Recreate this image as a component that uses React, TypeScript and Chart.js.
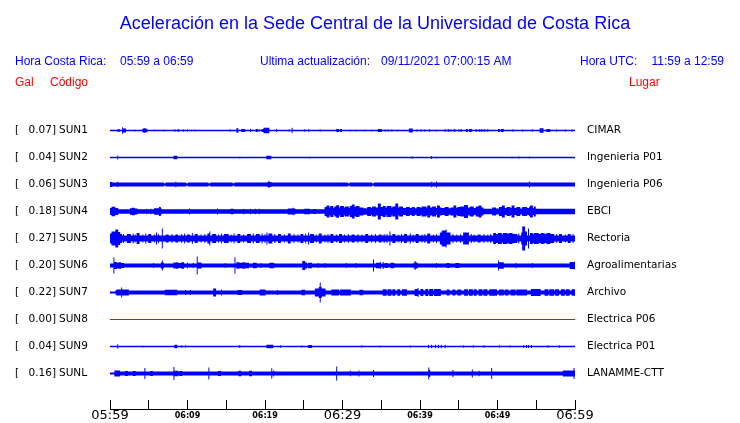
import React, { useEffect, useRef } from "react";
import { Chart, registerables } from "chart.js";

Chart.register(...registerables);

// ---------- text ----------
const TITLE = "Aceleración en la Sede Central de la Universidad de Costa Rica";
const LOCAL_LABEL = "Hora Costa Rica:";
const LOCAL_RANGE = "05:59 a 06:59";
const UPDATE_LABEL = "Ultima actualización:";
const UPDATE_VALUE = "09/11/2021 07:00:15 AM";
const UTC_LABEL = "Hora UTC:";
const UTC_RANGE = "11:59 a 12:59";
const COL_GAL = "Gal";
const COL_CODE = "Código";
const COL_PLACE = "Lugar";

// ---------- stations ----------
const stationCodes = ["SUN1", "SUN2", "SUN3", "SUN4", "SUN5", "SUN6", "SUN7", "SUN8", "SUN9", "SUNL"];
const peakGal = ["0.07", "0.04", "0.06", "0.18", "0.27", "0.20", "0.22", "0.00", "0.04", "0.16"];
const places = ["CIMAR", "Ingenieria P01", "Ingenieria P06", "EBCI", "Rectoria", "Agroalimentarias", "Archivo", "Electrica P06", "Electrica P01", "LANAMME-CTT"];

// ---------- time axis (minutes after 05:59) ----------
const tickMinutes = [0, 5, 10, 15, 20, 25, 30, 35, 40, 45, 50, 55, 60];
const tickLabels = ["05:59", "", "06:09", "", "06:19", "", "06:29", "", "06:39", "", "06:49", "", "06:59"];
const majorTickLabels = ["05:59", "06:29", "06:59"];

// ---------- waveform envelopes ----------
// background half-amplitude of each trace (counts)
const baseAmp = [0.7, 0.65, 2.0, 2.2, 3.0, 2.0, 2.0, 0.55, 0.65, 2.0];
// bursts: [start minute, end minute, half-amplitude]
const sun1Bursts = [[1.0,1.3,1.3],[1.6,1.6,3.3],[1.75,2.0,2.0],[3.2,3.2,1.0],[4.3,4.4,2.0],[4.45,4.45,2.5],[4.55,4.7,1.8],[5.7,5.7,1.0],[7.0,7.0,1.0],[8.4,8.4,1.3],[8.7,8.7,1.3],[8.9,8.9,1.3],[9.5,9.5,1.3],[10.0,10.0,1.3],[10.5,10.5,0.9],[11.0,11.0,0.9],[15.5,15.5,1.3],[16.35,16.55,2.3],[17.0,17.1,1.5],[17.3,17.4,1.5],[18.15,18.15,1.5],[18.9,19.0,1.5],[19.3,19.3,1.2],[19.6,19.8,1.5],[19.9,20.5,2.7],[21.5,21.5,1.5],[23.1,23.1,1.3],[23.45,23.45,2.8],[25.1,25.1,1.3],[25.6,25.6,1.3],[27.1,27.1,1.3],[29.3,29.45,1.5],[29.7,29.9,1.5],[31.05,31.05,1.0],[31.8,31.8,1.0],[32.9,32.9,1.0],[33.75,33.75,1.0],[34.6,34.75,1.5],[34.9,35.05,1.5],[35.5,35.5,1.2],[35.9,35.9,1.2],[36.35,36.35,1.2],[37.1,37.1,1.0],[38.6,39.05,2.0],[39.65,39.65,1.3],[40.1,40.1,1.3],[40.65,40.65,1.3],[41.3,41.3,1.3],[42.15,42.15,1.0],[43.2,43.2,1.6],[43.65,43.75,1.3],[44.0,44.0,1.2],[44.35,44.5,1.3],[44.95,45.05,1.2],[45.3,45.4,1.2],[46.0,46.15,1.5],[46.4,46.65,1.5],[47.3,47.3,1.5],[47.6,47.7,1.3],[48.0,48.0,1.5],[48.3,48.4,1.2],[48.7,48.8,1.5],[50.1,50.2,1.5],[50.5,50.75,1.5],[52.0,52.0,1.2],[53.25,53.25,1.2],[54.55,54.55,1.2],[55.5,55.9,2.3],[56.35,56.45,1.5],[56.6,56.7,1.5],[57.6,57.6,1.3],[58.8,58.8,1.3],[59.6,59.6,1.3]];
const sun2Bursts = [[1.0,1.0,2.0],[8.3,8.6,1.7],[16.7,16.7,1.0],[20.3,20.7,1.7],[25.7,25.7,1.0],[39.0,39.0,1.2],[41.45,41.45,1.5],[42.1,42.1,1.0],[51.9,51.9,1.0],[52.7,52.7,1.3],[54.1,54.1,1.0]];
const sun3Bursts = [[0,0.2,2.4],[1.0,1.0,2.8],[7.0,7.1,1.2],[8.5,8.5,2.8],[9.9,10.0,1.2],[12.8,12.9,1.2],[15.9,16.0,1.2],[20.4,20.7,2.6],[20.55,20.55,3.7],[30.75,30.85,1.2],[33.85,33.95,1.2],[41.45,41.45,2.8],[42.1,42.1,3.0],[54.1,54.1,3.0]];
const sun4Bursts = [[0,0.3,3.5],[0.3,0.6,4.7],[0.6,1.05,3.5],[2.6,2.9,3.3],[2.9,3.15,3.8],[3.15,3.45,3.0],[4.8,4.8,2.8],[5.25,5.25,2.8],[5.8,6.2,3.3],[6.35,6.5,4.5],[6.5,6.6,3.0],[10.3,10.3,3.0],[13.85,13.85,3.0],[15.6,15.9,2.8],[17.2,17.2,2.8],[18.15,18.15,2.8],[18.7,18.7,2.8],[19.2,19.2,2.8],[23.0,23.5,3.0],[23.65,23.65,3.8],[23.8,23.9,3.0],[25.1,25.7,2.8],[26.2,26.45,2.6],
  [27.75,28.0,4.5],[28.0,28.25,6.0],[28.25,28.5,4.0],[28.5,28.75,5.5],[28.75,29.0,3.5],[29.0,29.3,5.0],[29.3,29.55,6.3],[29.55,29.8,4.0],[29.8,30.1,5.5],[30.1,30.35,4.0],[30.35,30.7,5.0],[30.7,31.0,3.8],[31.0,31.3,5.5],[31.3,31.5,7.0],[31.5,31.8,4.5],[31.8,32.1,5.5],[32.1,32.6,4.0],[32.6,33.3,3.3],[33.3,33.6,4.5],[33.6,33.9,3.5],[33.9,34.3,5.0],[34.3,34.6,4.0],[34.6,34.85,8.0],[34.85,35.2,4.5],[35.2,35.5,5.5],[35.5,35.8,3.8],[35.8,36.2,5.5],[36.2,36.5,4.0],[36.5,36.85,5.0],[36.85,37.1,8.0],[37.1,37.4,4.0],[37.4,37.8,5.0],[37.8,38.2,3.5],[38.2,38.6,4.5],[38.6,39.0,3.5],[39.0,39.3,4.5],[39.3,39.6,3.3],[39.6,40.0,4.5],[40.0,40.3,3.5],[40.3,40.7,5.0],[40.7,41.0,4.0],[41.0,41.2,6.0],[41.2,41.6,4.0],[41.6,42.0,5.0],[42.0,42.25,3.5],[42.25,42.45,6.0],[42.45,42.8,4.0],[42.8,43.2,3.5],[43.2,43.6,4.5],[43.6,44.0,3.3],[44.0,44.4,4.0],[44.4,44.6,6.0],[44.6,44.9,3.5],[44.9,45.3,4.5],[45.3,45.8,5.0],[45.8,46.1,6.5],[46.1,46.5,4.0],[46.5,46.9,5.0],[46.9,47.3,3.5],[47.3,47.6,5.0],[47.6,47.85,6.0],[47.85,48.1,4.0],[48.1,49.4,2.8],[49.4,49.8,4.0],[49.8,50.2,3.0],[50.2,50.6,4.5],[50.6,50.85,6.0],[50.85,51.2,3.5],[51.2,51.6,4.5],[51.6,51.9,3.5],[51.9,52.1,6.0],[52.1,52.5,3.5],[52.5,52.9,4.5],[52.9,53.3,3.0],[53.3,53.7,4.5],[53.7,54.1,3.5],[54.1,54.3,4.5],[54.3,54.5,6.0],[54.5,54.7,3.5],[54.7,54.9,5.0],[54.9,60,2.7]];
const sun5Bursts = [[0,0.3,5.0],[0.3,0.8,7.0],[0.8,1.0,9.0],[1.0,1.2,6.5],[1.2,1.5,4.5],[1.8,1.8,4.5],[2.3,2.6,4.5],[3.0,3.0,5.0],[3.3,3.3,4.0],[3.5,3.8,5.5],[4.2,4.2,4.0],[4.6,4.6,5.0],[5.0,5.3,4.5],[5.7,5.7,4.0],[6.0,6.0,6.0],[6.3,6.3,4.5],[6.8,6.8,10.0],[7.2,7.5,4.0],[8.0,8.0,4.5],[8.5,8.8,4.0],[9.2,9.2,4.5],[9.6,9.6,5.0],[10.0,10.3,4.0],[10.6,10.6,5.5],[11.0,11.3,4.5],[11.8,11.8,4.0],[12.2,12.2,4.5],[12.6,12.85,5.0],[12.9,12.9,7.0],[13.3,13.6,4.5],[14.0,14.0,4.0],[14.4,14.4,5.0],[14.8,15.2,4.5],[15.6,15.6,4.0],[16.0,16.0,5.0],[16.5,16.8,4.5],[17.3,17.3,4.0],[17.8,18.1,4.5],[18.5,18.5,5.0],[18.9,19.3,4.5],[19.6,19.6,5.0],[20.0,20.0,4.5],[20.2,20.2,6.0],[20.5,20.9,5.0],[21.2,21.2,4.5],[21.7,22.0,4.5],[22.5,22.5,4.0],[23.0,23.3,5.0],[23.7,23.7,4.5],[24.2,24.2,4.0],[24.6,24.9,4.5],[25.3,25.3,5.0],[25.6,25.6,6.0],[25.9,26.2,4.5],[26.6,26.6,4.0],[27.0,27.3,5.0],[27.7,27.7,4.0],[28.1,28.1,4.5],[28.5,28.8,4.5],[29.2,29.2,4.0],[29.6,29.9,4.5],[30.3,30.3,4.0],[30.8,30.8,4.5],[31.2,31.5,4.0],[32.0,32.0,4.5],[32.5,32.5,4.0],[33.0,33.3,4.5],[33.8,33.8,4.0],[34.3,34.3,4.5],[34.7,35.0,4.0],[35.4,35.4,4.5],[35.8,35.8,4.5],[36.1,36.1,7.0],[36.5,36.8,4.5],[37.2,37.2,4.0],[37.6,37.6,4.5],[38.0,38.3,4.5],[38.7,38.7,5.0],[39.1,39.1,4.0],[39.5,39.8,4.5],[40.2,40.2,4.0],[40.6,40.6,4.5],[41.0,41.3,5.0],[41.7,41.7,4.0],[42.1,42.1,4.5],[42.6,42.9,6.0],[42.9,43.2,8.0],[43.35,43.35,9.0],[43.5,43.9,6.0],[44.3,44.3,4.5],[44.8,44.8,4.0],[45.2,45.2,4.5],[45.6,46.2,6.0],[46.6,46.6,4.5],[47.0,47.0,4.0],[47.5,47.8,4.0],[48.2,48.2,4.5],[48.7,48.7,4.0],[49.1,49.1,4.5],[49.5,49.8,5.5],[49.8,50.1,4.5],[50.1,50.5,5.5],[50.5,50.8,4.0],[50.8,51.2,5.5],[51.2,51.5,4.5],[51.5,51.9,5.5],[51.9,52.5,4.5],[52.8,52.8,5.0],[53.1,53.1,6.0],[53.25,53.5,12.0],[53.5,53.8,7.0],[54.0,54.0,10.0],[54.2,54.5,5.5],[54.5,54.8,4.5],[54.8,55.2,5.5],[55.2,55.6,4.5],[55.6,56.0,5.5],[56.0,56.4,4.5],[56.4,56.8,5.5],[56.8,57.2,4.5],[57.6,57.6,4.5],[58.0,58.3,4.5],[58.7,58.7,4.0],[59.1,59.4,4.5],[59.8,59.8,4.5]];
const sun6Bursts = [[0.45,0.45,8.0],[0.65,0.9,3.5],[0.9,1.1,2.6],[1.1,1.4,3.3],[1.4,1.7,2.6],[5.6,5.6,2.5],[6.6,6.9,3.0],[6.75,6.75,5.0],[8.2,8.5,3.0],[8.6,8.8,3.3],[8.9,9.1,2.6],[9.2,9.45,3.3],[10.0,10.0,2.7],[10.75,10.75,2.7],[11.2,11.2,9.0],[11.35,11.8,3.0],[14.85,14.85,2.5],[16.1,16.1,8.3],[16.35,16.6,3.3],[16.7,17.0,2.8],[17.1,17.4,3.3],[17.5,17.85,2.8],[18.5,18.9,2.7],[19.5,19.5,2.5],[20.6,21.1,2.7],[24.9,25.1,4.5],[25.15,25.4,3.0],[25.6,26.0,2.7],[26.9,26.9,2.5],[27.8,27.8,2.5],[30.5,30.5,2.5],[31.7,31.7,2.5],[34.0,34.0,6.0],[34.4,34.7,2.8],[34.85,34.85,3.5],[35.2,35.2,3.5],[35.5,35.8,2.6],[36.2,36.6,2.8],[39.2,39.6,3.0],[39.35,39.35,4.5],[42.1,42.1,2.5],[43.5,43.8,2.5],[44.6,45.0,2.5],[50.1,50.1,5.0],[50.3,50.75,3.3],[52.4,52.4,2.7],[54.5,54.5,2.5],[59.35,60,3.5],[59.9,60,3.8]];
const sun7Bursts = [[0,0.65,1.0],[0.85,2.35,3.0],[1.5,1.5,5.0],[7.1,8.6,2.7],[9.7,9.7,2.5],[10.35,10.35,2.5],[13.35,13.65,4.0],[14.4,14.4,3.0],[16.5,17.0,2.5],[19.35,20.0,3.0],[21.6,21.6,2.5],[24.75,25.15,2.7],[26.45,26.9,4.0],[26.95,27.3,5.5],[27.1,27.1,10.0],[27.3,27.75,4.0],[28.6,29.45,3.0],[29.7,30.95,3.0],[32.3,32.6,2.7],[35.25,35.6,3.3],[35.9,36.2,3.3],[36.5,36.8,3.3],[37.1,37.4,3.3],[37.7,38.3,3.3],[39.35,39.7,3.5],[39.8,39.8,4.5],[40.1,40.4,3.5],[40.7,41.0,3.5],[41.3,41.6,3.5],[41.9,42.6,3.5],[43.45,43.8,3.0],[44.2,44.5,3.0],[44.9,45.2,3.0],[45.8,46.1,3.3],[46.4,46.7,3.3],[47.0,47.3,3.3],[47.6,48.0,3.3],[48.3,48.6,3.3],[49.0,49.9,3.3],[50.3,50.7,3.0],[51.0,51.4,3.0],[51.8,52.2,3.0],[52.5,53.75,3.0],[54.4,55.5,3.5],[56.1,56.5,3.3],[56.8,57.2,3.3],[57.5,57.9,3.3],[58.2,58.6,3.3],[58.9,59.3,3.3],[59.6,60,3.3]];
const sun8Bursts: number[][] = [];
const sun9Bursts = [[1.0,1.0,2.3],[4.2,4.2,1.0],[8.4,8.6,1.7],[9.25,9.25,1.3],[9.7,9.7,1.3],[16.8,16.8,1.5],[20.2,20.95,1.7],[21.95,21.95,1.3],[24.75,24.75,1.3],[25.6,26.0,1.5],[32.5,32.5,1.3],[34.85,34.85,1.0],[38.7,38.7,1.3],[41.1,41.1,1.7],[41.5,41.5,1.7],[41.95,41.95,1.7],[42.35,42.35,1.7],[42.8,42.8,1.7],[43.2,43.2,1.7],[45.6,45.6,1.3],[46.9,46.9,1.3],[48.2,48.2,1.3],[50.3,50.3,1.3],[51.6,51.6,1.2],[53.35,53.35,1.5],[53.7,53.7,1.5],[54.05,54.05,1.5],[54.4,54.4,1.5],[56.55,56.55,1.2],[58.05,58.05,1.2]];
const sunlBursts = [[0,0.65,1.0],[0.65,1.3,3.0],[2.0,2.2,2.6],[3.0,3.2,2.6],[4.5,4.5,5.5],[5.3,5.5,2.6],[8.2,8.2,6.5],[8.4,8.7,2.8],[9.0,9.3,2.6],[12.8,12.8,6.0],[14.0,14.2,2.6],[16.6,16.9,2.7],[18.0,18.3,2.7],[20.85,20.85,5.3],[21.1,21.1,3.0],[29.25,29.25,7.0],[31.0,31.0,2.8],[32.1,32.1,3.0],[34.0,34.0,3.5],[41.1,41.1,6.0],[41.3,41.3,3.5],[44.3,44.3,3.5],[46.8,46.8,4.0],[47.6,47.6,2.7],[49.25,49.25,5.5],[58.5,60,3.0],[59.9,59.9,5.5]];
const traceBursts = [sun1Bursts, sun2Bursts, sun3Bursts, sun4Bursts, sun5Bursts, sun6Bursts, sun7Bursts, sun8Bursts, sun9Bursts, sunlBursts];

// ---------- layout / style ----------
const W = 740;
const H = 423;
const TRACE_SPACING = 27;
const STEP = 0.125;
const BLUE = "#0000ff";
const RED = "#ff0000";

function envelope(base: number, bursts: number[][]): number[] {
  const out: number[] = [];
  const n = Math.round(60 / STEP);
  for (let i = 0; i <= n; i++) {
    const t = i * STEP;
    let amp = -1;
    for (const [t0, t1, a] of bursts) {
      if (t >= t0 - STEP / 2 && t <= t1 + STEP / 2 && a > amp) amp = a;
    }
    out.push(amp < 0 ? base : amp);
  }
  return out;
}

const baselineOf = (k: number) => (stationCodes.length - k) * TRACE_SPACING;

export default function App() {
  const ref = useRef<HTMLCanvasElement>(null);
  useEffect(() => {
    const datasets: any[] = [];
    stationCodes.forEach((code, k) => {
      const b = baselineOf(k);
      const env = envelope(baseAmp[k], traceBursts[k]);
      const color = parseFloat(peakGal[k]) === 0 ? RED : BLUE;
      // upper envelope (not drawn itself)
      datasets.push({
        label: code + " max",
        data: env.map((a, i) => ({ x: i * STEP, y: b + a })),
        fill: false,
        backgroundColor: color,
        borderColor: color,
        borderWidth: 0,
        pointRadius: 0,
        stepped: "middle",
      });
      // lower envelope, filled up to the upper one
      datasets.push({
        label: code + " min",
        data: env.map((a, i) => ({ x: i * STEP, y: b - a })),
        fill: "-1",
        backgroundColor: color,
        borderColor: color,
        borderWidth: 0,
        pointRadius: 0,
        stepped: "middle",
      });
    });

    const textPlugin = {
      id: "seismoText",
      afterDraw(chart: any) {
        const ctx = chart.ctx;
        const y = chart.scales.y;
        ctx.save();
        ctx.textBaseline = "alphabetic";
        ctx.fillStyle = BLUE;
        ctx.font = "18px 'Liberation Sans', Arial, sans-serif";
        ctx.textAlign = "center";
        ctx.fillText(TITLE, 375, 29);
        ctx.font = "12px 'Liberation Sans', Arial, sans-serif";
        ctx.textAlign = "left";
        ctx.fillText(LOCAL_LABEL, 15, 65);
        ctx.fillText(LOCAL_RANGE, 120, 65);
        ctx.fillText(UPDATE_LABEL, 260, 65);
        ctx.fillText(UPDATE_VALUE, 381, 65);
        ctx.fillText(UTC_LABEL, 580, 65);
        ctx.textAlign = "right";
        ctx.fillText(UTC_RANGE, 724, 65);
        ctx.fillStyle = RED;
        ctx.textAlign = "left";
        ctx.fillText(COL_GAL, 15, 86);
        ctx.fillText(COL_CODE, 50, 86);
        ctx.fillText(COL_PLACE, 629, 86);

        ctx.fillStyle = "#000";
        ctx.font = "10.5px 'DejaVu Sans', sans-serif";
        ctx.textBaseline = "middle";
        stationCodes.forEach((code, k) => {
          const py = y.getPixelForValue(baselineOf(k));
          ctx.textAlign = "left";
          ctx.fillText("[", 15, py);
          ctx.textAlign = "right";
          ctx.fillText(peakGal[k] + "]", 56, py);
          ctx.textAlign = "left";
          ctx.fillText(code, 59, py);
          ctx.fillText(places[k], 587, py);
        });
        ctx.restore();
      },
    };

    const chart = new Chart(ref.current!, {
      type: "line",
      data: { datasets },
      options: {
        animation: false,
        responsive: false,
        devicePixelRatio: 1,
        events: [],
        layout: { padding: { left: 110, right: 165, top: 103, bottom: 0 } },
        plugins: { legend: { display: false }, tooltip: { enabled: false }, title: { display: false } },
        scales: {
          x: {
            type: "linear",
            position: "bottom",
            min: tickMinutes[0],
            max: tickMinutes[tickMinutes.length - 1],
            afterBuildTicks: (scale: any) => {
              scale.ticks = tickMinutes.map((v) => ({ value: v }));
            },
            afterFit: (scale: any) => {
              scale.height = 14;
            },
            grid: {
              display: true,
              drawOnChartArea: false,
              drawTicks: true,
              tickLength: -9,
              color: "#000",
              tickColor: "#000",
              lineWidth: 1,
            },
            border: { display: true, color: "#000", width: 1 },
            ticks: {
              autoSkip: false,
              maxRotation: 0,
              minRotation: 0,
              padding: 8,
              color: "#000",
              callback: (v: any) => tickLabels[tickMinutes.indexOf(Number(v))] ?? "",
              font: (c: any) => {
                const lbl = tickLabels[tickMinutes.indexOf(c.tick?.value)] ?? "";
                return majorTickLabels.includes(lbl)
                  ? { family: "'DejaVu Sans', sans-serif", size: 13, lineHeight: 1.2 }
                  : { family: "'DejaVu Sans', sans-serif", size: 8, weight: "bold", lineHeight: 1.95 };
              },
            },
          },
          y: {
            type: "linear",
            display: false,
            min: -8.5,
            max: 297.5,
          },
        },
      },
      plugins: [textPlugin],
    } as any);
    return () => chart.destroy();
  }, []);

  return (
    <div style={{ position: "absolute", left: 0, top: 0, width: W, height: H, background: "#fff" }}>
      <canvas ref={ref} width={W} height={H} style={{ display: "block", width: W, height: H }} />
    </div>
  );
}
